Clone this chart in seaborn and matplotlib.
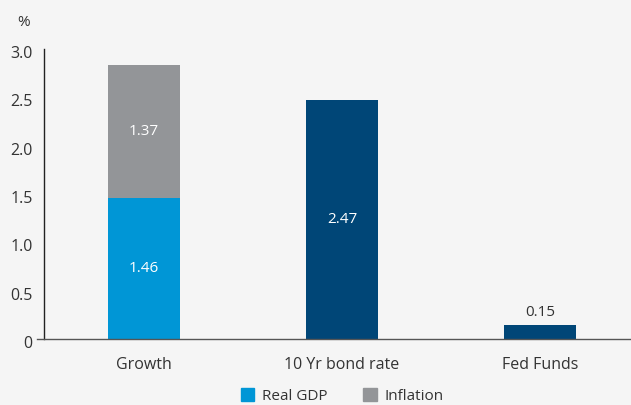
import pandas as pd
import numpy as np
import matplotlib.pyplot as plt
import matplotlib.transforms as mtransforms
from matplotlib.patches import Patch
import seaborn as sns

# data
categories = ['Growth', '10 Yr bond rate', 'Fed Funds']
real_gdp = [1.46, np.nan, np.nan]
inflation = [1.37, np.nan, np.nan]
rates = [np.nan, 2.47, 0.15]
yticks = [0, 0.5, 1.0, 1.5, 2.0, 2.5, 3.0]
ytick_labels = ['0', '0.5', '1.0', '1.5', '2.0', '2.5', '3.0']

c_gdp = '#0096d6'
c_inf = '#939598'
c_navy = '#004677'
bg = '#f5f5f5'

# totals for the stacked bar + single bars
totals = [np.nansum([g, i, r]) for g, i, r in zip(real_gdp, inflation, rates)]
df_top = pd.DataFrame({'cat': categories, 'val': totals})
df_low = pd.DataFrame({'cat': categories, 'val': real_gdp})

sns.set_style('white')
plt.rcParams['font.family'] = ['Open Sans', 'DejaVu Sans']

fig = plt.figure(figsize=(6.31, 4.05), dpi=100, facecolor=bg)
ax = fig.add_axes([0.0697, 1 - 339 / 405, 0.9303, 290 / 405])
ax.set_facecolor(bg)

sns.barplot(data=df_top, x='cat', y='val', hue='cat',
            palette=[c_inf, c_navy, c_navy], width=0.365,
            legend=False, ax=ax, saturation=1, linewidth=0)
sns.barplot(data=df_low, x='cat', y='val', color=c_gdp, width=0.365,
            ax=ax, saturation=1, linewidth=0)

# value labels
ax.text(0, real_gdp[0] / 2, f'{real_gdp[0]:.2f}', ha='center', va='center',
        color='white', fontsize=11)
ax.text(0, real_gdp[0] + inflation[0] / 2, f'{inflation[0]:.2f}', ha='center',
        va='center', color='white', fontsize=11)
ax.text(1, rates[1] / 2, f'{rates[1]:.2f}', ha='center', va='center',
        color='white', fontsize=11)
ax.text(2, rates[2] + 0.05, f'{rates[2]:.2f}', ha='center', va='bottom',
        color='#333333', fontsize=11)

ax.set_xlim(-0.505, 2.46)
ax.set_ylim(0, 3.0)
ax.set_yticks(yticks)
ax.set_yticklabels(ytick_labels)
ax.set_xlabel('')
ax.set_ylabel('')
ax.tick_params(axis='both', length=0, labelsize=11.5, colors='#333333')
ax.tick_params(axis='x', pad=13)
ax.tick_params(axis='y', pad=8)

# y tick labels sit a few pixels below their gridline in the original
shift = mtransforms.ScaledTranslation(0, -3 / 100, fig.dpi_scale_trans)
for lab in ax.get_yticklabels():
    lab.set_transform(lab.get_transform() + shift)

for s in ['top', 'right']:
    ax.spines[s].set_visible(False)
ax.spines['left'].set_color('#222222')
ax.spines['left'].set_linewidth(1)
ax.spines['bottom'].set_color('#555555')
ax.spines['bottom'].set_linewidth(1)
ax.spines['bottom'].set_bounds(-0.54, 2.46)
ax.spines['bottom'].set_clip_on(False)

fig.text(0.037, 0.945, '%', fontsize=11, color='#333333', ha='center', va='center')

handles = [Patch(color=c_gdp, label='Real GDP'), Patch(color=c_inf, label='Inflation')]
fig.legend(handles=handles, loc='center', bbox_to_anchor=(0.542, 0.022), ncol=2,
           frameon=False, fontsize=11, handlelength=0.9, handleheight=0.9,
           handletextpad=0.5, columnspacing=2.3, labelcolor='#333333')

fig.savefig('out.png', dpi=100, facecolor=bg)
